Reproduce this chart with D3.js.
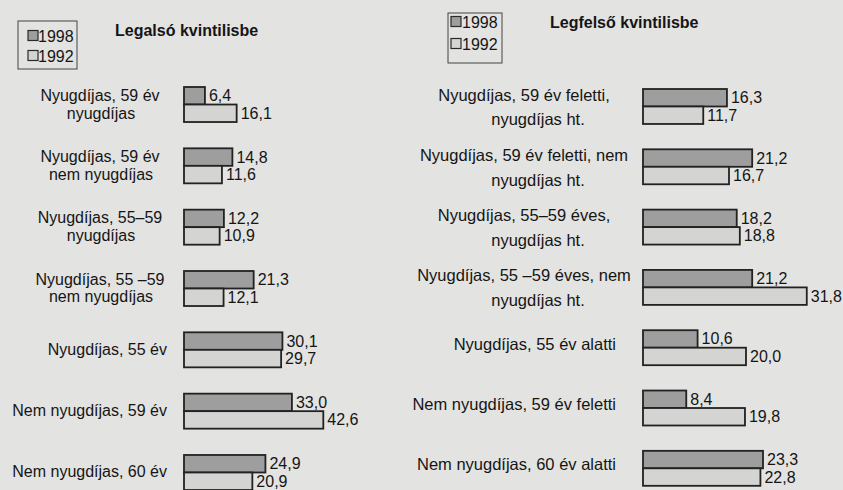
<!DOCTYPE html>
<html>
<head>
<meta charset="utf-8">
<script src="https://cdn.jsdelivr.net/npm/d3@7"></script>
<style>
  body { margin: 0; background: #e3e3e1; }
  text { font-family: "Liberation Sans", Arial, sans-serif; fill: #151515; }
</style>
</head>
<body>
<div class="chart"></div>
<script>
// Chart size
var svgWidth = 843;
var svgHeight = 490;

// Series names
var years = ["1998", "1992"];

// Left panel: lowest quintile
var leftTitle = "Legalsó kvintilisbe";
var leftCategories = [
    "Nyugdíjas, 59 év\nnyugdíjas",
    "Nyugdíjas, 59 év\nnem nyugdíjas",
    "Nyugdíjas, 55–59\nnyugdíjas",
    "Nyugdíjas, 55 –59\nnem nyugdíjas",
    "Nyugdíjas, 55 év",
    "Nem nyugdíjas, 59 év",
    "Nem nyugdíjas, 60 év"
];
var left1998 = [6.4, 14.8, 12.2, 21.3, 30.1, 33.0, 24.9];
var left1992 = [16.1, 11.6, 10.9, 12.1, 29.7, 42.6, 20.9];

// Right panel: highest quintile
var rightTitle = "Legfelső kvintilisbe";
var rightCategories = [
    "Nyugdíjas, 59 év feletti,\nnyugdíjas ht.",
    "Nyugdíjas, 59 év feletti, nem\nnyugdíjas ht.",
    "Nyugdíjas, 55–59 éves,\nnyugdíjas ht.",
    "Nyugdíjas, 55 –59 éves, nem\nnyugdíjas ht.",
    "Nyugdíjas, 55 év alatti",
    "Nem nyugdíjas, 59 év feletti",
    "Nem nyugdíjas, 60 év alatti"
];
var right1998 = [16.3, 21.2, 18.2, 21.2, 10.6, 8.4, 23.3];
var right1992 = [11.7, 16.7, 18.8, 31.8, 20.0, 19.8, 22.8];

var colors = { "1998": "#9e9e9e", "1992": "#d4d4d2" };

var svg = d3.select(".chart")
    .append("svg")
    .attr("width", svgWidth)
    .attr("height", svgHeight);

// format 6.4 -> "6,4"
var fmt = function(v) { return d3.format(".1f")(v).replace(".", ","); };

function drawPanel(opts) {
    var rows = opts.categories.map(function(c, i) {
        return { cat: c, "1998": opts.v1998[i], "1992": opts.v1992[i] };
    });

    var x = d3.scaleLinear()
        .domain([0, opts.xMax])
        .range([opts.x0, opts.x0 + opts.xMax * opts.pxPerUnit]);

    var y = d3.scaleBand()
        .domain(opts.categories)
        .range([opts.yTop, opts.yBottom])
        .paddingInner(opts.pad)
        .paddingOuter(0);

    var ySub = d3.scaleBand()
        .domain(years)
        .range([0, y.bandwidth()]);

    var g = svg.append("g");

    var groups = g.selectAll(".grp")
        .data(rows)
        .enter()
        .append("g")
        .attr("transform", d => `translate(0, ${y(d.cat)})`);

    // bars
    groups.selectAll("rect")
        .data(d => years.map(k => ({ key: k, value: d[k] })))
        .enter()
        .append("rect")
        .attr("x", x(0))
        .attr("y", d => ySub(d.key))
        .attr("width", d => x(d.value) - x(0))
        .attr("height", ySub.bandwidth())
        .attr("fill", d => colors[d.key])
        .attr("stroke", "#222")
        .attr("stroke-width", 1.8);

    // value labels
    groups.selectAll(".val")
        .data(d => years.map(k => ({ key: k, value: d[k] })))
        .enter()
        .append("text")
        .attr("x", d => x(d.value) + 4)
        .attr("y", d => ySub(d.key) + ySub.bandwidth() / 2 + 5.5)
        .style("font-size", "16px")
        .text(d => fmt(d.value));

    // category labels
    groups.each(function(d) {
        var lines = d.cat.split("\n");
        var t = d3.select(this).append("text")
            .style("font-size", opts.labelSize);
        var mid = y.bandwidth() / 2;
        if (lines.length === 1) {
            t.attr("text-anchor", "end")
                .attr("x", opts.singleX)
                .attr("y", mid + opts.singleDy)
                .text(lines[0]);
        } else {
            t.attr("text-anchor", "middle");
            lines.forEach(function(line, i) {
                t.append("tspan")
                    .attr("x", i === 0 ? opts.multiX : opts.multiX2)
                    .attr("y", mid + opts.lineDy[i])
                    .text(line);
            });
        }
    });

    // title
    svg.append("text")
        .attr("x", opts.titleX)
        .attr("y", opts.titleY)
        .style("font-size", "16px")
        .style("font-weight", "bold")
        .text(opts.title);

    // legend
    var L = opts.legend;
    var lg = svg.append("g");
    lg.append("rect")
        .attr("x", L.x)
        .attr("y", L.y)
        .attr("width", L.w)
        .attr("height", L.h)
        .attr("fill", "none")
        .attr("stroke", "#444")
        .attr("stroke-width", 1);
    years.forEach(function(k, i) {
        var cy = L.y + L.first + i * L.step;
        lg.append("rect")
            .attr("x", L.x + L.sq)
            .attr("y", cy - 5)
            .attr("width", 10)
            .attr("height", 10)
            .attr("fill", colors[k])
            .attr("stroke", "#2a2a2a")
            .attr("stroke-width", 1.2);
        lg.append("text")
            .attr("x", L.x + L.tx)
            .attr("y", cy + 6)
            .style("font-size", "16px")
            .text(k);
    });
}

drawPanel({
    title: leftTitle, categories: leftCategories, v1998: left1998, v1992: left1992,
    xMax: 45, x0: 184, pxPerUnit: 3.27,
    yTop: 87, yBottom: 490, pad: 0.429,
    labelSize: "16px",
    singleX: 167, singleDy: 5,
    multiX: 100, multiX2: 101, lineDy: [-4, 14],
    titleX: 115, titleY: 36,
    legend: { x: 18, y: 21, w: 59, h: 48, first: 14.5, step: 20, sq: 10, tx: 20 }
});

drawPanel({
    title: rightTitle, categories: rightCategories, v1998: right1998, v1992: right1992,
    xMax: 35, x0: 643, pxPerUnit: 5.15,
    yTop: 89, yBottom: 485.8, pad: 0.42,
    labelSize: "16.5px",
    singleX: 616, singleDy: 2,
    multiX: 524, multiX2: 538, lineDy: [-6, 19],
    titleX: 550, titleY: 28,
    legend: { x: 448, y: 13, w: 54, h: 50, first: 8.5, step: 22, sq: 3, tx: 14 }
});
</script>
</body>
</html>
